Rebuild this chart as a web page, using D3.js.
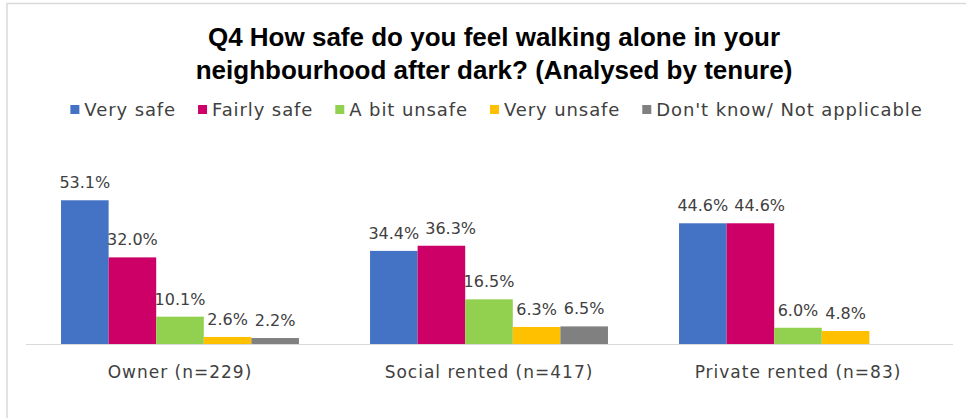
<!DOCTYPE html>
<html>
<head>
<meta charset="utf-8">
<script src="https://cdn.jsdelivr.net/npm/d3@7/dist/d3.min.js"></script>
<style>
  html, body { margin: 0; padding: 0; background: #fff; }
  svg { display: block; }
</style>
</head>
<body>
<svg id="chart" width="966" height="418"></svg>
<script>
// Survey responses by tenure (percent of respondents)
const categories = ["Owner (n=229)", "Social rented (n=417)", "Private rented (n=83)"];
const seriesNames = ["Very safe", "Fairly safe", "A bit unsafe", "Very unsafe", "Don't know/ Not applicable"];
const verySafe     = [53.1, 34.4, 44.6];
const fairlySafe   = [32.0, 36.3, 44.6];
const aBitUnsafe   = [10.1, 16.5, 6.0];
const veryUnsafe   = [2.6, 6.3, 4.8];
const dontKnow     = [2.2, 6.5, null];
const seriesColors = ["#4472C4", "#CC0066", "#92D050", "#FFC000", "#808080"];
const titleLines = ["Q4 How safe do you feel walking alone in your",
                    "neighbourhood after dark? (Analysed by tenure)"];

const seriesValues = [verySafe, fairlySafe, aBitUnsafe, veryUnsafe, dontKnow];

const svg = d3.select("#chart");
const W = 966, H = 418;
const textColor = "#404040";
const font = "'DejaVu Sans', sans-serif";

// outer frame
svg.append("rect")
  .attr("x", 7).attr("y", 3.5)
  .attr("width", W + 10).attr("height", H + 10)
  .attr("fill", "#fff")
  .attr("stroke", "#d9d9d9").attr("stroke-width", 1.5);

// title
svg.append("g").selectAll("text")
  .data(titleLines)
  .join("text")
  .attr("x", 494)
  .attr("y", (d, i) => 46 + i * 33)
  .attr("text-anchor", "middle")
  .attr("font-family", "'Liberation Sans', Arial, sans-serif")
  .attr("font-weight", "bold")
  .attr("font-size", 26)
  .attr("fill", "#000")
  .text(d => d);

// scales
const x0 = d3.scaleBand()
  .domain(categories)
  .range([25.5, 952.5])
  .paddingInner(0.23)
  .paddingOuter(0.115);

const x1 = d3.scaleBand()
  .domain(d3.range(seriesNames.length))
  .range([0, x0.bandwidth()]);

const y = d3.scaleLinear()
  .domain([0, 60])
  .range([344, 181.6]);

// bars
const groups = svg.append("g").selectAll("g")
  .data(categories)
  .join("g")
  .attr("transform", d => `translate(${x0(d)},0)`);

const cells = groups.selectAll("g")
  .data((c, ci) => seriesValues.map((vals, si) => ({ si, v: vals[ci] })).filter(d => d.v != null))
  .join("g");

cells.append("rect")
  .attr("x", d => x1(d.si))
  .attr("width", x1.bandwidth())
  .attr("y", d => y(d.v))
  .attr("height", d => y(0) - y(d.v))
  .attr("fill", d => seriesColors[d.si]);

cells.append("text")
  .attr("class", "value-label")
  .attr("x", d => x1(d.si) + x1.bandwidth() / 2)
  .attr("y", d => y(d.v) - 12)
  .attr("text-anchor", "middle")
  .attr("font-family", font)
  .attr("font-size", 16)
  .attr("fill", textColor)
  .text(d => d.v.toFixed(1) + "%");

// nudge value labels right when they would collide with the previous label at a similar height
groups.each(function () {
  let prev = null;
  d3.select(this).selectAll("text.value-label").each(function () {
    const t = d3.select(this);
    const w = this.getComputedTextLength();
    let cxl = +t.attr("x");
    const yy = +t.attr("y");
    if (prev && Math.abs(prev.y - yy) < 18 && cxl - w / 2 < prev.right + 6) {
      cxl = prev.right + 6 + w / 2;
      t.attr("x", cxl);
    }
    prev = { right: cxl + w / 2, y: yy };
  });
});

// category axis
const xAxis = d3.axisBottom(x0).tickSize(0).tickPadding(22);
const axisG = svg.append("g")
  .attr("transform", `translate(0,${y(0)})`)
  .call(xAxis);
axisG.select(".domain").attr("stroke", "#d9d9d9").attr("stroke-width", 1.2);
axisG.selectAll("text")
  .attr("font-family", font)
  .attr("font-size", 17)
  .attr("letter-spacing", 1)
  .attr("fill", textColor);

// legend
const legend = svg.append("g");
const items = legend.selectAll("g")
  .data(seriesNames)
  .join("g");
items.append("rect")
  .attr("width", 9).attr("height", 9)
  .attr("y", -11)
  .attr("fill", (d, i) => seriesColors[i]);
items.append("text")
  .attr("x", 14)
  .attr("font-family", font)
  .attr("font-size", 18)
  .attr("letter-spacing", 0.9)
  .attr("fill", textColor)
  .text(d => d);

let cx = 0;
const gap = 22;
items.each(function () {
  const g = d3.select(this);
  g.attr("transform", `translate(${cx},0)`);
  cx += 14 + g.select("text").node().getComputedTextLength() + gap;
});
const total = cx - gap;
legend.attr("transform", `translate(${(75 + 918) / 2 - total / 2},116)`);
</script>
</body>
</html>
